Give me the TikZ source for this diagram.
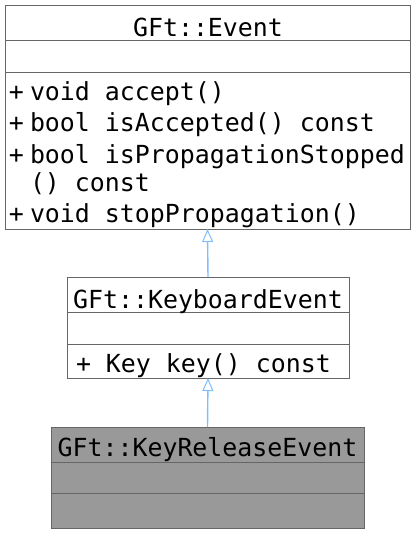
\documentclass[tikz,border=0pt]{standalone}
\usepackage{fontspec}
\setmainfont{DejaVu Sans Mono}
\usetikzlibrary{arrows.meta}
\definecolor{boxline}{HTML}{666666}
\definecolor{boxfill}{HTML}{999999}
\definecolor{inhcol}{HTML}{7FBFFF}
\begin{document}
\begin{tikzpicture}[x=1pt,y=-1pt,
  umlbox/.style={draw=boxline, line width=1pt, inner sep=0pt, outer sep=0pt},
  divider/.style={draw=boxline, line width=1pt},
  txt/.style={inner sep=0pt, outer sep=0pt, font=\fontsize{24.9pt}{30pt}\selectfont},
  inh/.style={draw=inhcol, line width=1.4pt, -{Triangle[open, fill=white, line width=1pt, length=13pt, width=11pt]}}
]
\useasboundingbox (0,0) rectangle (416,533);
% boxes
\node[umlbox, fill=white, minimum width=405pt, minimum height=224pt] (ev) at (207.5,117) {};
\node[umlbox, fill=white, minimum width=282pt, minimum height=101pt] (kb) at (208,327.5) {};
\node[umlbox, fill=boxfill, minimum width=313pt, minimum height=101pt] (kr) at (207.5,477.5) {};
% dividers
\draw[divider] (ev.west |- 0,40) -- (ev.east |- 0,40);
\draw[divider] (ev.west |- 0,72) -- (ev.east |- 0,72);
\draw[divider] (kb.west |- 0,312) -- (kb.east |- 0,312);
\draw[divider] (kb.west |- 0,344) -- (kb.east |- 0,344);
\draw[divider] (kr.west |- 0,462) -- (kr.east |- 0,462);
\draw[divider] (kr.west |- 0,493) -- (kr.east |- 0,493);
% texts
\node[txt, anchor=base] (evt) at (208,36) {GFt::Event};
\node[txt, anchor=base west] (p1) at (9,100) {+};
\node[txt, anchor=base west] (m1) at (30,100) {void accept()};
\node[txt, anchor=base west] (p2) at (9,131) {+};
\node[txt, anchor=base west] (m2) at (30,131) {bool isAccepted() const};
\node[txt, anchor=base west] (p3) at (9,163) {+};
\node[txt, anchor=base west] (m3) at (30,163) {bool isPropagationStopped};
\node[txt, anchor=base west] (m3b) at (30,191) {() const};
\node[txt, anchor=base west] (p4) at (9,222) {+};
\node[txt, anchor=base west] (m4) at (30,222) {void stopPropagation()};
\node[txt, anchor=base] (kbt) at (208,308) {GFt::KeyboardEvent};
\node[txt, anchor=base west] (k1) at (76,372) {+ Key key() const};
\node[txt, anchor=base] (krt) at (207.5,456) {GFt::KeyReleaseEvent};
% inheritance
\draw[inh] (kb.north) -- (ev.south);
\draw[inh] (kr.north) -- (kb.south);
\end{tikzpicture}
\end{document}
